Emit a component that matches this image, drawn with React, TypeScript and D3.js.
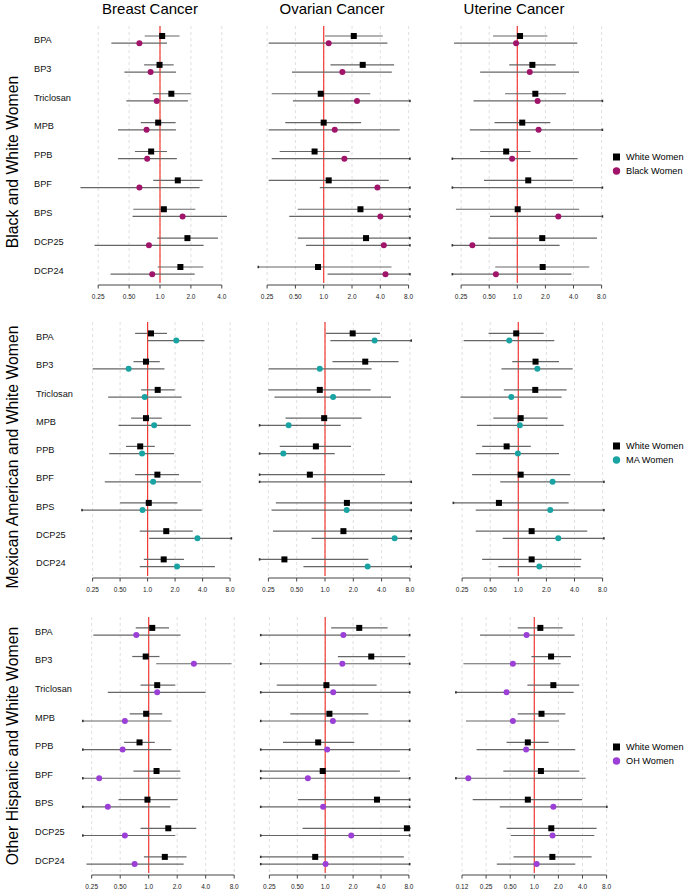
import React from "react";
import * as d3 from "d3";

// chemicals, top to bottom in every panel
const chemicals = ["BPA", "BP3", "Triclosan", "MPB", "PPB", "BPF", "BPS", "DCP25", "DCP24"];
const cancers = ["Breast Cancer", "Ovarian Cancer", "Uterine Cancer"];
const rowTitles = ["Black and White Women", "Mexican American and White Women", "Other Hispanic and White Women"];
const groupNames = ["Black Women", "MA Women", "OH Women"];
const groupColors = ["#a0146a", "#1aa3a3", "#9b3fd6"];

// [estimate, lower CI, upper CI] per chemical; null estimate = not shown
type Row = [number | null, number, number];

// Black vs White
const bwBreastWhite: Row[] = [[1.05, 0.71, 1.55], [0.99, 0.7, 1.36], [1.29, 0.85, 1.99], [0.96, 0.65, 1.42], [0.82, 0.57, 1.17], [1.49, 0.86, 2.6], [1.09, 0.55, 2.21], [1.85, 0.94, 3.67], [1.58, 0.95, 2.64]];
const bwBreastBlack: Row[] = [[0.63, 0.336, 1.17], [0.81, 0.45, 1.43], [0.93, 0.47, 1.87], [0.74, 0.39, 1.43], [0.75, 0.39, 1.46], [0.63, 0.168, 2.43], [1.66, 0.54, 4.49], [0.78, 0.23, 2.66], [0.84, 0.33, 2.18]];
const bwOvarianWhite: Row[] = [[2.09, 1.03, 4.25], [2.6, 1.18, 5.61], [0.93, 0.28, 3.13], [1.0, 0.39, 2.5], [0.8, 0.34, 1.89], [1.13, 0.26, 4.92], [2.46, 0.53, 12], [2.82, 0.53, 12], [0.87, 0.15, 5.26]];
const bwOvarianBlack: Row[] = [[1.13, 0.26, 4.76], [1.58, 0.46, 5.3], [2.26, 0.47, 12], [1.31, 0.26, 6.45], [1.66, 0.28, 12], [3.73, 0.91, 12], [4.01, 0.43, 12], [4.36, 0.65, 12], [4.54, 1.1, 12]];
const bwUterineWhite: Row[] = [[1.07, 0.55, 2.1], [1.45, 0.82, 2.58], [1.56, 0.74, 3.32], [1.13, 0.57, 2.26], [0.76, 0.4, 1.39], [1.31, 0.44, 3.92], [1.01, 0.22, 4.6], [1.85, 0.49, 7.14], [1.87, 0.58, 5.9]];
const bwUterineBlack: Row[] = [[0.97, 0.21, 4.39], [1.36, 0.4, 4.58], [1.65, 0.34, 12], [1.69, 0.31, 12], [0.88, 0.15, 4.43], [null, 0.15, 12], [2.75, 0.51, 12], [0.33, 0.15, 2.84], [0.59, 0.15, 3.81]];

// Mexican American vs White
const maBreastWhite: Row[] = [[1.09, 0.73, 1.63], [0.96, 0.7, 1.36], [1.29, 0.85, 1.98], [0.96, 0.66, 1.43], [0.83, 0.58, 1.2], [1.28, 0.73, 2.21], [1.03, 0.5, 2.12], [1.6, 0.82, 3.12], [1.5, 0.91, 2.5]];
const maBreastMA: Row[] = [[2.06, 1.0, 4.19], [0.62, 0.25, 1.53], [0.93, 0.37, 2.36], [1.18, 0.48, 2.97], [0.87, 0.38, 1.95], [1.15, 0.34, 3.85], [0.88, 0.15, 3.91], [3.51, 1.04, 12], [2.1, 0.82, 5.46]];
const maOvarianWhite: Row[] = [[1.97, 1.02, 3.84], [2.68, 1.2, 6.06], [0.88, 0.25, 3.06], [0.98, 0.38, 2.45], [0.8, 0.33, 1.89], [0.69, 0.15, 4.34], [1.71, 0.3, 12], [1.57, 0.28, 12], [0.37, 0.15, 2.89]];
const maOvarianMA: Row[] = [[3.37, 1.14, 12], [0.88, 0.25, 3.13], [1.22, 0.29, 5.03], [0.41, 0.15, 1.47], [0.36, 0.15, 1.27], [null, 0.15, 12], [1.7, 0.27, 12], [5.5, 0.72, 12], [2.84, 0.59, 12]];
const maUterineWhite: Row[] = [[0.95, 0.48, 1.87], [1.53, 0.86, 2.73], [1.52, 0.7, 3.29], [1.06, 0.54, 2.06], [0.75, 0.41, 1.36], [1.06, 0.32, 3.61], [0.62, 0.15, 3.46], [1.39, 0.35, 5.48], [1.39, 0.41, 4.73]];
const maUterineMA: Row[] = [[0.8, 0.26, 2.43], [1.6, 0.66, 3.82], [0.84, 0.24, 2.91], [1.04, 0.36, 3.06], [0.99, 0.35, 2.73], [2.33, 0.64, 12], [2.2, 0.35, 12], [2.68, 0.68, 12], [1.68, 0.61, 4.65]];

// Other Hispanic vs White
const ohBreastWhite: Row[] = [[1.09, 0.73, 1.64], [0.93, 0.67, 1.3], [1.23, 0.82, 1.91], [0.94, 0.63, 1.39], [0.8, 0.55, 1.16], [1.21, 0.69, 2.15], [0.97, 0.48, 2.02], [1.61, 0.82, 3.18], [1.48, 0.89, 2.51]];
const ohBreastOH: Row[] = [[0.74, 0.26, 2.17], [3.0, 1.2, 7.5], [1.23, 0.37, 3.99], [0.56, 0.15, 1.74], [0.53, 0.15, 1.74], [0.3, 0.15, 2.17], [0.37, 0.15, 1.69], [0.56, 0.15, 1.91], [0.71, 0.22, 2.34]];
const ohOvarianWhite: Row[] = [[2.33, 1.16, 4.71], [3.14, 1.37, 7.31], [1.03, 0.3, 3.59], [1.11, 0.42, 2.92], [0.84, 0.35, 2.06], [0.94, 0.15, 6.4], [3.62, 0.51, 12], [7.61, 0.57, 12], [0.78, 0.15, 7.06]];
const ohOvarianOH: Row[] = [[1.57, 0.15, 12], [1.53, 0.15, 12], [1.22, 0.15, 12], [1.21, 0.15, 12], [1.05, 0.15, 12], [0.65, 0.15, 12], [0.95, 0.15, 12], [1.91, 0.15, 12], [1.01, 0.15, 12]];
const ohUterineWhite: Row[] = [[1.19, 0.62, 2.26], [1.62, 0.92, 2.87], [1.73, 0.82, 3.65], [1.23, 0.62, 2.44], [0.83, 0.45, 1.51], [1.21, 0.41, 3.65], [0.83, 0.17, 3.94], [1.63, 0.45, 6.0], [1.68, 0.55, 5.2]];
const ohUterineOH: Row[] = [[0.8, 0.21, 3.19], [0.54, 0.13, 2.13], [0.45, 0.08, 3.1], [0.54, 0.14, 2.03], [0.79, 0.19, 3.25], [0.15, 0.08, 4.38], [1.73, 0.37, 12], [1.69, 0.51, 5.62], [1.07, 0.34, 3.25]];

const ticksA = [0.25, 0.5, 1, 2, 4];
const ticksB = [0.25, 0.5, 1, 2, 4, 8];
const ticksC = [0.125, 0.25, 0.5, 1, 2, 4, 8];
const tickFmt = (v: number) => (v === 0.125 ? "0.12" : v < 1 ? d3.format(".2f")(v) : d3.format(".1f")(v));

const whiteData = [
  [bwBreastWhite, bwOvarianWhite, bwUterineWhite],
  [maBreastWhite, maOvarianWhite, maUterineWhite],
  [ohBreastWhite, ohOvarianWhite, ohUterineWhite],
];
const groupData = [
  [bwBreastBlack, bwOvarianBlack, bwUterineBlack],
  [maBreastMA, maOvarianMA, maUterineMA],
  [ohBreastOH, ohOvarianOH, ohUterineOH],
];

// layout of the panels
const rowLayout = [
  { top: 26, axisY: 285, first: 39.6, last: 270.6, legendY: 157, titleY: 162 },
  { top: 322, axisY: 578, first: 337, last: 563, legendY: 446, titleY: 457 },
  { top: 617, axisY: 875, first: 631.5, last: 860.5, legendY: 747, titleY: 746 },
];
const panelLayout = [
  [
    { x1: 160, k: 30.9, ticks: ticksA, lo: 0.1, hi: 10 },
    { x1: 323.7, k: 28.3, ticks: ticksB, lo: 0.2, hi: 8.3 },
    { x1: 517.3, k: 28.1, ticks: ticksB, lo: 0.2, hi: 8.2 },
  ],
  [
    { x1: 147.6, k: 27.5, ticks: ticksB, lo: 0.19, hi: 8.3 },
    { x1: 325, k: 28.3, ticks: ticksB, lo: 0.2, hi: 8.3 },
    { x1: 518.3, k: 28.1, ticks: ticksB, lo: 0.2, hi: 8.3 },
  ],
  [
    { x1: 148.7, k: 28.5, ticks: ticksB, lo: 0.2, hi: 8.1 },
    { x1: 325.2, k: 27.9, ticks: ticksB, lo: 0.2, hi: 8.2 },
    { x1: 534.3, k: 24.1, ticks: ticksC, lo: 0.104, hi: 8.1 },
  ],
];
const titleX = [150, 332, 514];
const labelX = [34, 36, 35];
const font = "Liberation Sans, Arial, Helvetica, sans-serif";
const lineCol = "#666";

function Panel({ r, c }: { r: number; c: number }) {
  const row = rowLayout[r];
  const p = panelLayout[r][c];
  const x = d3.scaleLog().base(2).domain([1, 2]).range([p.x1, p.x1 + p.k]);
  const y = d3.scalePoint<string>().domain(chemicals).range([row.first, row.last]);
  const off = 3.6;

  const ci = (d: Row, cy: number, key: string) => {
    const a = Math.max(d[1], p.lo);
    const b = Math.min(d[2], p.hi);
    return (
      <g key={key}>
        <line x1={x(a)} x2={x(b)} y1={cy} y2={cy} stroke={lineCol} strokeWidth={1.2} />
        {d[1] < p.lo && <rect x={x(a) - 0.5} y={cy - 1.2} width={1.6} height={2.4} fill="#333" />}
        {d[2] > p.hi && <rect x={x(b) - 1} y={cy - 1.2} width={1.6} height={2.4} fill="#333" />}
      </g>
    );
  };

  const ticks = p.ticks;
  return (
    <g>
      {ticks.map((t) => (
        <line key={"g" + t} x1={x(t)} x2={x(t)} y1={row.top} y2={row.axisY - 2} stroke="#d8d8d8" strokeWidth={0.8} strokeDasharray="3,3" />
      ))}
      <line x1={x(1)} x2={x(1)} y1={row.top} y2={row.axisY - 2} stroke="#f23a33" strokeWidth={1.2} />
      {chemicals.map((ch, i) => {
        const cy = y(ch) as number;
        const w = whiteData[r][c][i];
        const g = groupData[r][c][i];
        return (
          <g key={ch}>
            {ci(w, cy - off, "w")}
            {ci(g, cy + off, "g")}
            {w[0] != null && <rect x={x(w[0]) - 3} y={cy - off - 3} width={6} height={6} fill="#000" />}
            {g[0] != null && <circle cx={x(g[0])} cy={cy + off} r={3} fill={groupColors[r]} />}
            {c === 0 && (
              <text x={labelX[r]} y={cy + 3.2} fontSize={9.2} fontFamily={font} fill="#111">
                {ch}
              </text>
            )}
          </g>
        );
      })}
      <g>
        <line x1={x(ticks[0])} x2={x(ticks[ticks.length - 1])} y1={row.axisY} y2={row.axisY} stroke="#444" strokeWidth={1} />
        {ticks.map((t) => (
          <g key={"t" + t}>
            <line x1={x(t)} x2={x(t)} y1={row.axisY} y2={row.axisY + 3.5} stroke="#444" strokeWidth={1} />
            <text x={x(t)} y={row.axisY + 14} fontSize={6.5} fontFamily={font} textAnchor="middle" fill="#222">
              {tickFmt(t)}
            </text>
          </g>
        ))}
      </g>
    </g>
  );
}

export default function App() {
  const width = 685;
  const height = 889;
  return (
    <svg width={width} height={height} style={{ position: "absolute", left: 0, top: 0, background: "#fff" }}>
      <rect width={width} height={height} fill="#fff" />
      {cancers.map((t, i) => (
        <text key={t} x={titleX[i]} y={14} fontSize={15} fontFamily={font} textAnchor="middle" fill="#000">
          {t}
        </text>
      ))}
      {rowTitles.map((t, r) => (
        <text key={t} transform={`translate(18,${rowLayout[r].titleY}) rotate(-90)`} fontSize={15.8} fontFamily={font} textAnchor="middle" fill="#000">
          {t}
        </text>
      ))}
      {rowLayout.map((row, r) => (
        <g key={r}>
          {[0, 1, 2].map((c) => (
            <Panel key={c} r={r} c={c} />
          ))}
          <rect x={613} y={row.legendY - 3.5} width={7} height={7} fill="#000" />
          <text x={626} y={row.legendY + 3.2} fontSize={9.2} fontFamily={font} fill="#000">White Women</text>
          <circle cx={616.5} cy={row.legendY + 14} r={3.7} fill={groupColors[r]} />
          <text x={626} y={row.legendY + 17.2} fontSize={9.2} fontFamily={font} fill="#000">{groupNames[r]}</text>
        </g>
      ))}
    </svg>
  );
}
